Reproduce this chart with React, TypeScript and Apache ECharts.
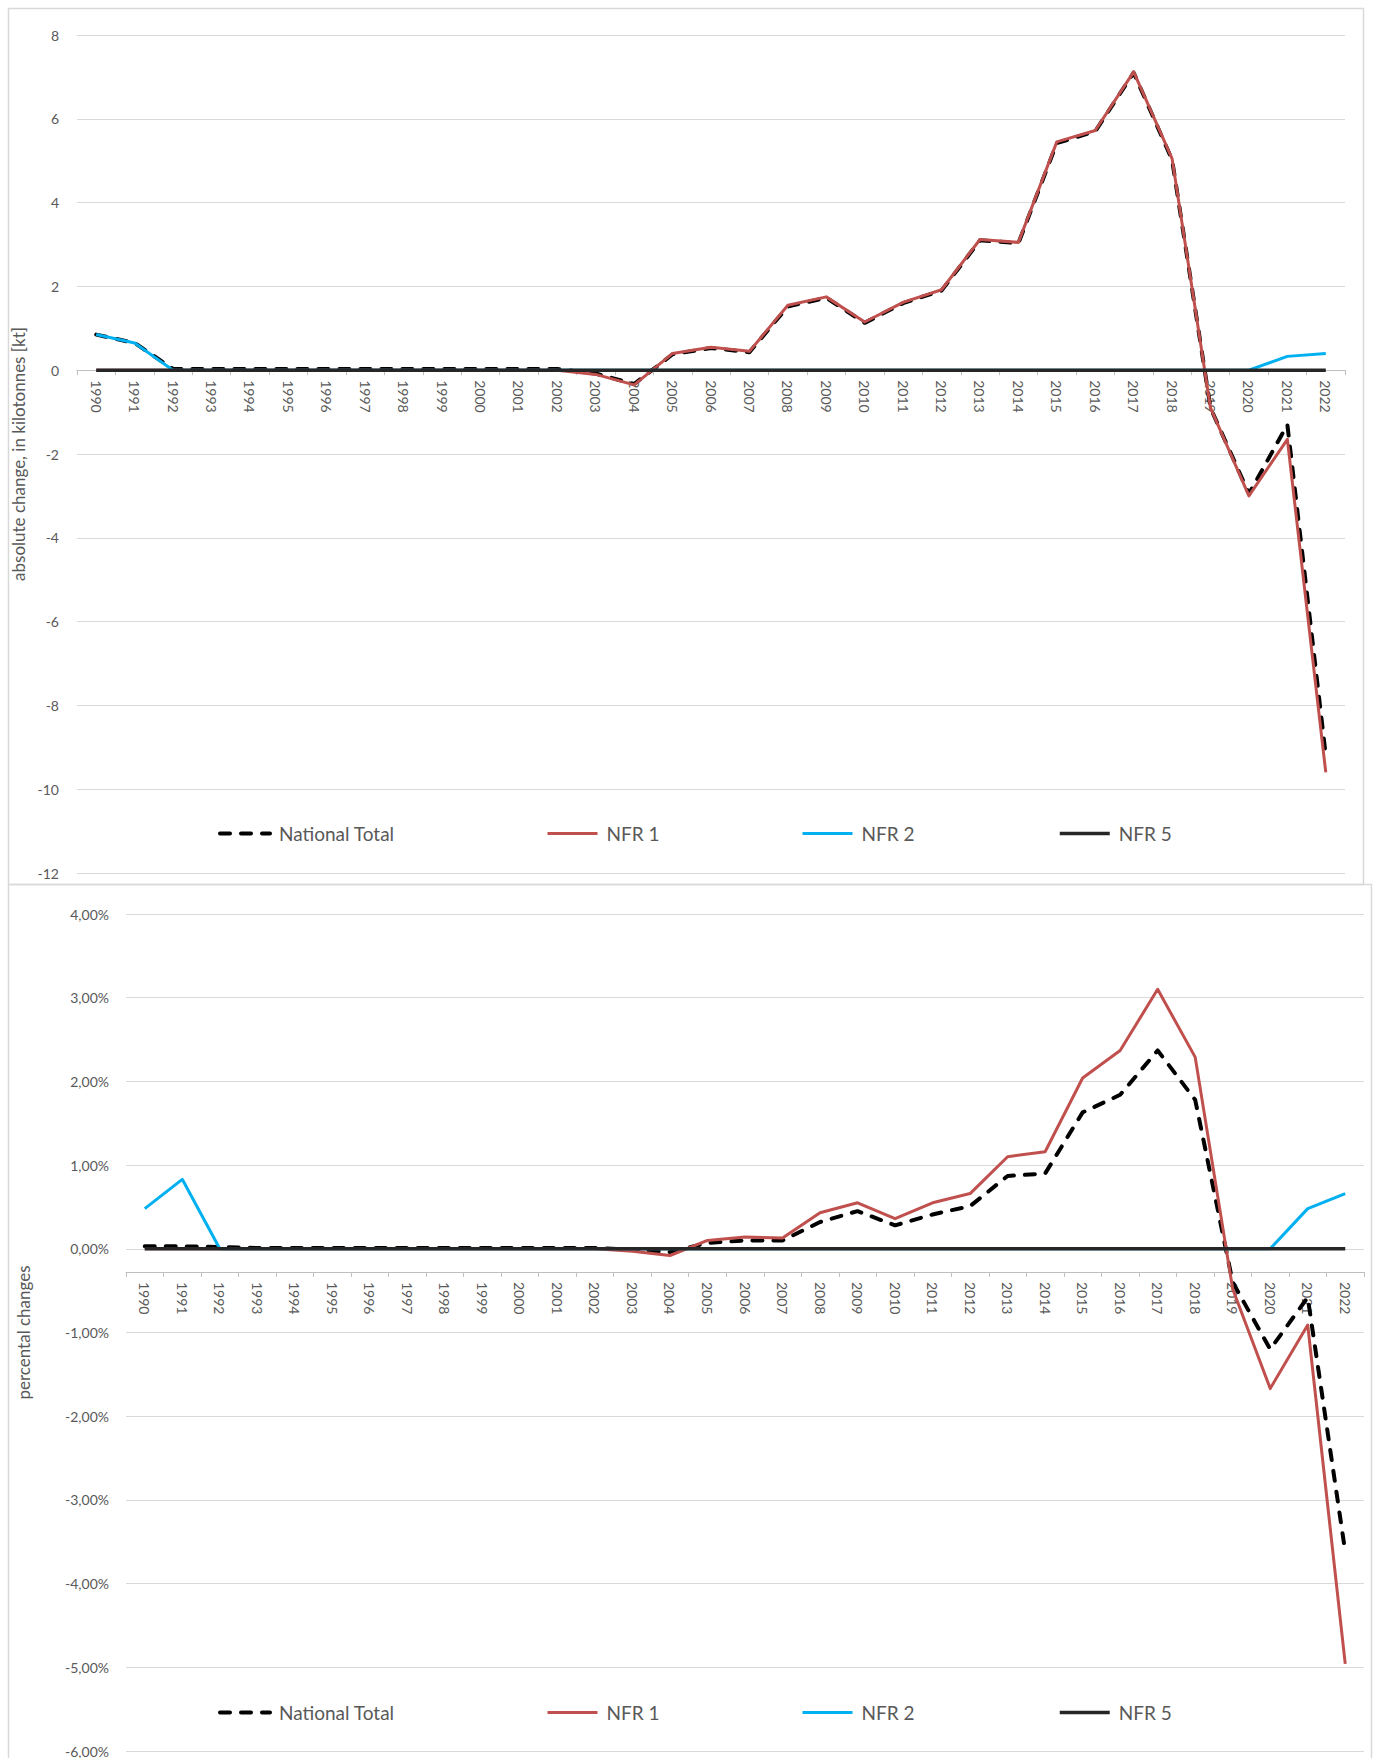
import React, { useEffect, useRef } from "react";
import * as echarts from "echarts";

const years = [
  "1990", "1991", "1992", "1993", "1994", "1995", "1996", "1997", "1998", "1999",
  "2000", "2001", "2002", "2003", "2004", "2005", "2006", "2007", "2008", "2009",
  "2010", "2011", "2012", "2013", "2014", "2015", "2016", "2017", "2018", "2019",
  "2020", "2021", "2022",
];

// absolute change, kt
const absNationalTotal = [
  0.85, 0.65, 0.03, 0.03, 0.03, 0.03, 0.03, 0.03, 0.03, 0.03,
  0.03, 0.03, 0.03, -0.08, -0.33, 0.38, 0.53, 0.43, 1.52, 1.73,
  1.13, 1.6, 1.9, 3.1, 3.03, 5.42, 5.7, 7.1, 5.02, -0.9,
  -2.95, -1.3, -9.2,
];
const absNFR1 = [
  0, 0, 0, 0, 0, 0, 0, 0, 0, 0,
  0, 0, 0, -0.1, -0.35, 0.4, 0.55, 0.45, 1.55, 1.75,
  1.15, 1.62, 1.92, 3.12, 3.05, 5.45, 5.72, 7.12, 5.05, -0.9,
  -3.0, -1.65, -9.6,
];
const absNFR2 = [
  0.85, 0.65, 0, 0, 0, 0, 0, 0, 0, 0,
  0, 0, 0, 0, 0, 0, 0, 0, 0, 0,
  0, 0, 0, 0, 0, 0, 0, 0, 0, 0,
  0, 0.33, 0.4,
];
const absNFR5 = [
  0, 0, 0, 0, 0, 0, 0, 0, 0, 0,
  0, 0, 0, 0, 0, 0, 0, 0, 0, 0,
  0, 0, 0, 0, 0, 0, 0, 0, 0, 0,
  0, 0, 0,
];

// percental changes, %
const pctNationalTotal = [
  0.03, 0.03, 0.02, 0.01, 0.01, 0.01, 0.01, 0.01, 0.01, 0.01,
  0.01, 0.01, 0.01, -0.01, -0.04, 0.07, 0.1, 0.1, 0.32, 0.45,
  0.28, 0.41, 0.51, 0.87, 0.9, 1.63, 1.84, 2.37, 1.78, -0.4,
  -1.2, -0.58, -3.62,
];
const pctNFR1 = [
  0, 0, 0, 0, 0, 0, 0, 0, 0, 0,
  0, 0, 0, -0.03, -0.08, 0.1, 0.14, 0.13, 0.43, 0.55,
  0.36, 0.55, 0.66, 1.1, 1.16, 2.04, 2.37, 3.1, 2.29, -0.48,
  -1.67, -0.91, -4.96,
];
const pctNFR2 = [
  0.48, 0.83, 0, 0, 0, 0, 0, 0, 0, 0,
  0, 0, 0, 0, 0, 0, 0, 0, 0, 0,
  0, 0, 0, 0, 0, 0, 0, 0, 0, 0,
  0, 0.48, 0.66,
];
const pctNFR5 = [
  0, 0, 0, 0, 0, 0, 0, 0, 0, 0,
  0, 0, 0, 0, 0, 0, 0, 0, 0, 0,
  0, 0, 0, 0, 0, 0, 0, 0, 0, 0,
  0, 0, 0,
];

const seriesNames = ["National Total", "NFR 1", "NFR 2", "NFR 5"];
const absAxis = { min: -12, max: 8, interval: 2, title: "absolute change, in kilotonnes [kt]" };
const pctAxis = { min: -6, max: 4, interval: 1, title: "percental changes" };

const FONT = "Lato";
const TXT = "#595959";
const GRIDC = "#D9D9D9";

const styles: Record<string, any> = {
  "National Total": { color: "#000000", width: 4, type: [10, 11], cap: "round", join: "round" },
  "NFR 1": { color: "#C0504D", width: 3, type: "solid", join: "round" },
  "NFR 2": { color: "#00B0F0", width: 3, type: "solid", join: "round" },
  "NFR 5": { color: "#262626", width: 3.5, type: "solid" },
};

function lineSeries(name: string, data: number[], idx: number) {
  return {
    name,
    type: "line",
    data,
    xAxisIndex: idx,
    yAxisIndex: idx,
    symbol: "none",
    showSymbol: false,
    silent: true,
    lineStyle: styles[name],
    itemStyle: { color: styles[name].color },
  };
}

function xAxisCfg(gridIndex: number) {
  return {
    type: "category",
    gridIndex,
    data: years,
    boundaryGap: true,
    offset: 0,
    axisLine: { onZero: false, lineStyle: { color: "#BFBFBF", width: 1 } },
    axisTick: { show: true, length: 5, lineStyle: { color: "#BFBFBF" } },
    axisLabel: {
      interval: 0,
      rotate: -90,
      margin: 10,
      fontFamily: FONT,
      fontSize: 14,
      color: TXT,
    },
    splitLine: { show: false },
  };
}

const legendX = [218, 546, 801, 1058];

export default function App() {
  const ref = useRef<HTMLDivElement>(null);
  useEffect(() => {
    document.body.style.margin = "0";
    if (!ref.current) return;
    const chart = echarts.init(ref.current, undefined, { renderer: "svg" });
    const legends: any[] = [];
    [824, 1703].forEach((top) => {
      seriesNames.forEach((n, i) => {
        legends.push({
          left: legendX[i],
          top,
          padding: 0,
          data: [n],
          itemWidth: 50,
          itemHeight: 16,
          itemStyle: { opacity: 0 },
          lineStyle: { ...styles[n] },
          textStyle: { fontFamily: FONT, fontSize: 19, color: TXT, padding: [0, 0, 0, 4] },
        });
      });
    });
    chart.setOption({
      animation: false,
      backgroundColor: "#ffffff",
      graphic: [
        {
          type: "rect",
          shape: { x: 8.5, y: 8.5, width: 1355, height: 876 },
          style: { fill: "none", stroke: GRIDC, lineWidth: 1.5 },
          silent: true,
        },
        {
          type: "rect",
          shape: { x: 8.5, y: 884.5, width: 1363, height: 900 },
          style: { fill: "none", stroke: GRIDC, lineWidth: 1.5 },
          silent: true,
        },
      ],
      legend: legends,
      grid: [
        { left: 77, top: 35, width: 1268, height: 838 },
        { left: 126, top: 914, width: 1238, height: 838 },
      ],
      xAxis: [xAxisCfg(0), xAxisCfg(1)],
      yAxis: [
        {
          type: "value",
          gridIndex: 0,
          min: absAxis.min,
          max: absAxis.max,
          interval: absAxis.interval,
          name: absAxis.title,
          nameLocation: "middle",
          nameGap: 47,
          nameTextStyle: { fontFamily: FONT, fontSize: 17, color: TXT },
          axisLine: { show: false },
          axisTick: { show: false },
          axisLabel: { margin: 18, fontFamily: FONT, fontSize: 14, color: TXT },
          splitLine: { lineStyle: { color: GRIDC, width: 1 } },
        },
        {
          type: "value",
          gridIndex: 1,
          min: pctAxis.min,
          max: pctAxis.max,
          interval: pctAxis.interval,
          name: pctAxis.title,
          nameLocation: "middle",
          nameGap: 94,
          nameTextStyle: { fontFamily: FONT, fontSize: 17, color: TXT },
          axisLine: { show: false },
          axisTick: { show: false },
          axisLabel: {
            margin: 17,
            fontFamily: FONT,
            fontSize: 14,
            color: TXT,
            formatter: (v: number) => v.toFixed(2).replace(".", ",") + "%",
          },
          splitLine: { lineStyle: { color: GRIDC, width: 1 } },
        },
      ],
      series: [
        lineSeries("National Total", absNationalTotal, 0),
        lineSeries("NFR 1", absNFR1, 0),
        lineSeries("NFR 2", absNFR2, 0),
        lineSeries("NFR 5", absNFR5, 0),
        lineSeries("National Total", pctNationalTotal, 1),
        lineSeries("NFR 1", pctNFR1, 1),
        lineSeries("NFR 2", pctNFR2, 1),
        lineSeries("NFR 5", pctNFR5, 1),
      ],
    });
    // place each category axis on the zero line of its value axis
    const zeroA = chart.convertToPixel({ yAxisIndex: 0 }, 0) as number;
    const baseA = chart.convertToPixel({ yAxisIndex: 0 }, absAxis.min) as number;
    const zeroB = chart.convertToPixel({ yAxisIndex: 1 }, 0) as number;
    const baseB = chart.convertToPixel({ yAxisIndex: 1 }, pctAxis.min) as number;
    chart.setOption({
      xAxis: [{ offset: zeroA - baseA }, { offset: zeroB - baseB }],
    });
    return () => chart.dispose();
  }, []);
  return <div ref={ref} style={{ width: 1373, height: 1758 }} />;
}
